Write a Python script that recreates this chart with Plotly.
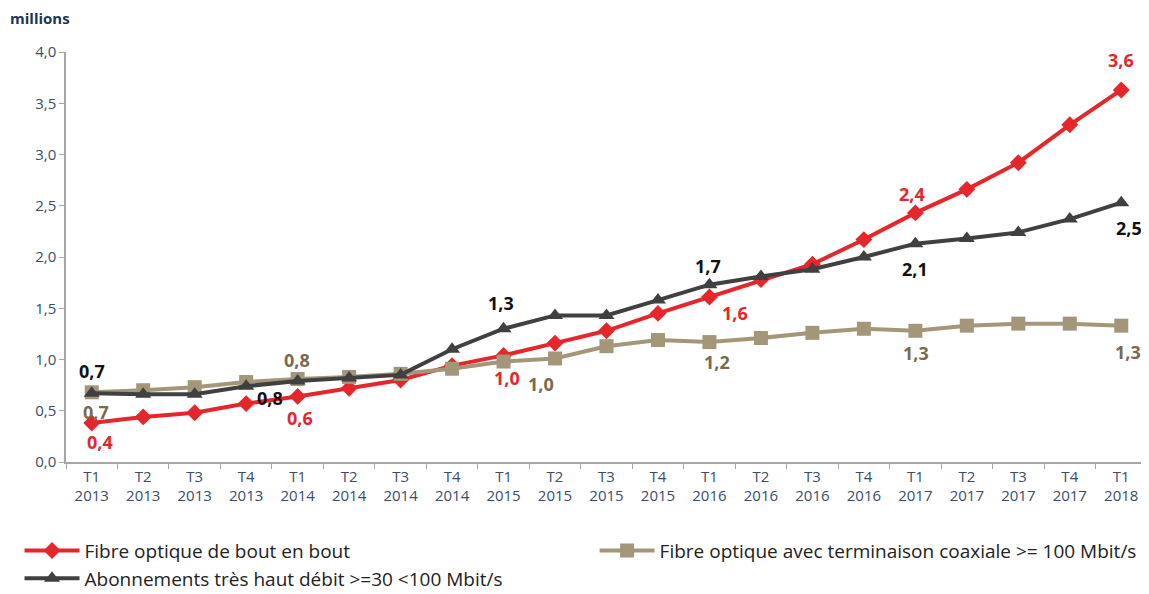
import plotly.graph_objects as go

quarters = ["T1", "T2", "T3", "T4"] * 5 + ["T1"]
years = [2013] * 4 + [2014] * 4 + [2015] * 4 + [2016] * 4 + [2017] * 4 + [2018]
categories = [f"{q}<br>{y}" for q, y in zip(quarters, years)]

fibre_bout = [0.38, 0.44, 0.48, 0.57, 0.64, 0.72, 0.80, 0.94, 1.04, 1.16, 1.28, 1.45,
              1.61, 1.78, 1.93, 2.17, 2.43, 2.66, 2.92, 3.29, 3.63]
fibre_coax = [0.68, 0.70, 0.73, 0.78, 0.81, 0.83, 0.86, 0.91, 0.98, 1.01, 1.13, 1.19,
              1.17, 1.21, 1.26, 1.30, 1.28, 1.33, 1.35, 1.35, 1.33]
thd_30_100 = [0.67, 0.66, 0.66, 0.74, 0.79, 0.82, 0.85, 1.10, 1.30, 1.43, 1.43, 1.58,
              1.73, 1.81, 1.88, 2.00, 2.13, 2.18, 2.24, 2.37, 2.53]

names = ["Fibre optique de bout en bout",
         "Fibre optique avec terminaison coaxiale >= 100 Mbit/s",
         "Abonnements très haut débit >=30 <100 Mbit/s"]

RED = "#e5262b"
TAN = "#a39679"
TAN_TXT = "#7b6a4f"
DARK = "#404040"

fig = go.Figure()
fig.add_trace(go.Scatter(x=categories, y=fibre_bout, name=names[0], mode="lines+markers",
                         line=dict(color=RED, width=4), legend="legend",
                         marker=dict(symbol="diamond", size=13, color=RED)))
fig.add_trace(go.Scatter(x=categories, y=fibre_coax, name=names[1], mode="lines+markers",
                         line=dict(color=TAN, width=4), legend="legend2",
                         marker=dict(symbol="square", size=14, color=TAN)))
fig.add_trace(go.Scatter(x=categories, y=thd_30_100, name=names[2], mode="lines+markers",
                         line=dict(color=DARK, width=4), legend="legend",
                         marker=dict(symbol="triangle-up", size=14, color=DARK)))

# data labels (first quarter of each year)
label_idx = [0, 4, 8, 12, 16, 20]
shifts = {
    "red": [(8, -19), (2, -22), (3, -23), (26, -16), (-3, 19), (0, 30)],
    "tan": [(4, -20), (-1, 19), (37, -22), (8, -20), (1, -22), (7, -26)],
    "dark": [(0, 22), (-28, -17), (-3, 26), (-1, 19), (0, -25), (8, -25)],
}
series = {"red": (fibre_bout, RED), "tan": (fibre_coax, TAN_TXT), "dark": (thd_30_100, "#111111")}
for key, (vals, col) in series.items():
    for (i, (dx, dy)) in zip(label_idx, shifts[key]):
        fig.add_annotation(x=categories[i], y=vals[i], text=f"{vals[i]:.1f}".replace(".", ","),
                           showarrow=False, xshift=dx, yshift=dy,
                           font=dict(family="Open Sans", size=18, color=col, weight="bold"))

fig.add_annotation(xref="paper", yref="paper", x=-0.054, y=1.083, xanchor="left", yanchor="middle",
                   text="<b>millions</b>", showarrow=False,
                   font=dict(family="Open Sans", size=15, color="#1f3550"))

legend_font = dict(family="Open Sans", size=19, color="#222222")
fig.update_layout(
    width=1141, height=586,
    margin=dict(l=58, r=2, t=44, b=132, autoexpand=False),
    paper_bgcolor="white", plot_bgcolor="white",
    separators=", ",
    font=dict(family="Open Sans", color="#3a4d68"),
    showlegend=True,
    legend=dict(orientation="v", x=-0.043, y=-0.17, xanchor="left", yanchor="top",
                itemwidth=55, font=legend_font, bgcolor="rgba(0,0,0,0)"),
    legend2=dict(orientation="v", x=0.489, y=-0.17, xanchor="left", yanchor="top",
                 itemwidth=55, font=legend_font, bgcolor="rgba(0,0,0,0)"),
)
fig.update_xaxes(type="category", showline=True, linecolor="#a6a6a6", linewidth=1.5,
                 ticks="outside", tickson="boundaries", ticklen=5, tickcolor="#a6a6a6",
                 tickfont=dict(size=15, color="#3a4d68"), showgrid=False,
                 range=[-0.5, len(categories) - 0.5])
fig.update_yaxes(range=[0, 4], dtick=0.5, tickformat=".1f", showline=True, linecolor="#a6a6a6",
                 linewidth=1.5, ticks="outside", ticklen=5, tickcolor="#a6a6a6",
                 tickfont=dict(size=15, color="#3a4d68"), showgrid=False, zeroline=False)

fig.write_html("out.html")
